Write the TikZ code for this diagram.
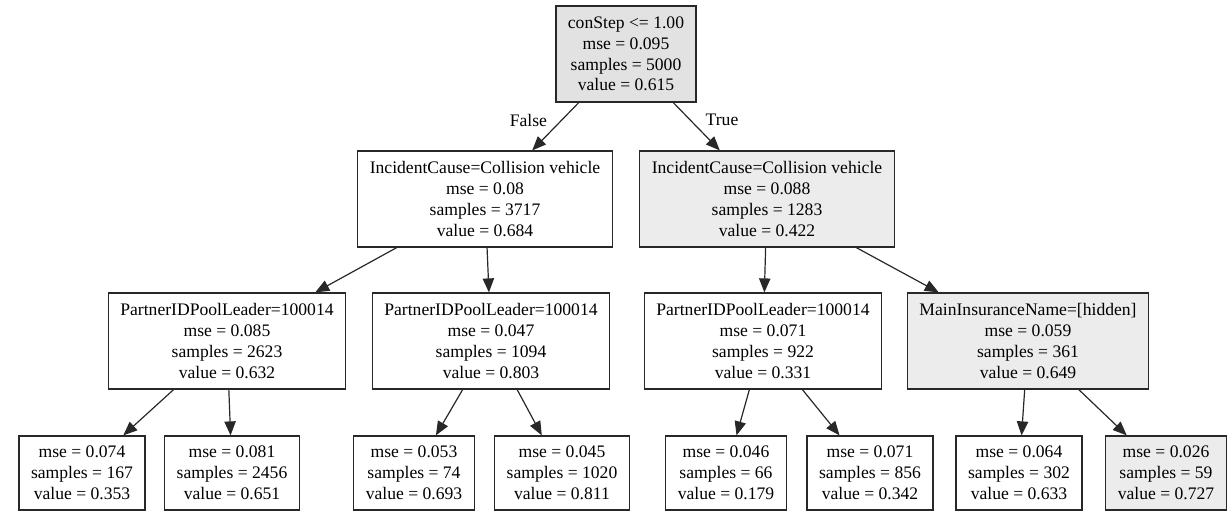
\documentclass[tikz,border=0pt]{standalone}
\usepackage{fontspec}
\setmainfont{Liberation Serif}
\usetikzlibrary{arrows.meta, positioning}
\definecolor{nodegray}{RGB}{236, 236, 236}
\definecolor{rootgray}{RGB}{226, 226, 226}
\definecolor{linegray}{RGB}{40, 40, 40}

\begin{document}
\begin{tikzpicture}[
    x=0.75pt, y=-0.75pt,
    arr/.style={-{Triangle[length=10.5pt, width=8.5pt]}, line width=0.9pt, draw=linegray},
    box/.style={draw=linegray, line width=0.9pt, inner xsep=9pt, inner ysep=0pt,
                align=center, font=\fontsize{13.2}{15.6}\selectfont},
    split/.style={box, minimum height=72pt},
    leaf/.style={box, minimum height=55.5pt},
    lbl/.style={inner sep=0pt, font=\fontsize{13.2}{15.6}\selectfont}
  ]
  \useasboundingbox (0,0) rectangle (1229,513);

  % root
  \node[split, fill=rootgray] (root) at (626,54)
        {conStep <= 1.00\\mse = 0.095\\samples = 5000\\value = 0.615};

  % first split
  \node[split] (fa) at (485,199)
        {IncidentCause=Collision vehicle\\mse = 0.08\\samples = 3717\\value = 0.684};
  \node[split, fill=nodegray] (tr) at (767,199)
        {IncidentCause=Collision vehicle\\mse = 0.088\\samples = 1283\\value = 0.422};

  % second split
  \node[split] (pa) at (227,341)
        {PartnerIDPoolLeader=100014\\mse = 0.085\\samples = 2623\\value = 0.632};
  \node[split] (pb) at (491,341)
        {PartnerIDPoolLeader=100014\\mse = 0.047\\samples = 1094\\value = 0.803};
  \node[split] (pc) at (763,341)
        {PartnerIDPoolLeader=100014\\mse = 0.071\\samples = 922\\value = 0.331};
  \node[split, fill=nodegray] (ins) at (1028,341)
        {MainInsuranceName=[hidden]\\mse = 0.059\\samples = 361\\value = 0.649};

  % leaves
  \node[leaf] (l1) at (82,473) {mse = 0.074\\samples = 167\\value = 0.353};
  \node[leaf] (l2) at (232,473) {mse = 0.081\\samples = 2456\\value = 0.651};
  \node[leaf] (l3) at (414,473) {mse = 0.053\\samples = 74\\value = 0.693};
  \node[leaf] (l4) at (562,473) {mse = 0.045\\samples = 1020\\value = 0.811};
  \node[leaf] (l5) at (726,473) {mse = 0.046\\samples = 66\\value = 0.179};
  \node[leaf] (l6) at (870,473) {mse = 0.071\\samples = 856\\value = 0.342};
  \node[leaf] (l7) at (1019,473) {mse = 0.064\\samples = 302\\value = 0.633};
  \node[leaf, fill=nodegray] (l8) at (1166,473) {mse = 0.026\\samples = 59\\value = 0.727};

  \draw[arr] (root) -- (fa) node[lbl, pos=0.37, left=10.5pt] (lfalse) {False};
  \draw[arr] (root) -- (tr) node[lbl, pos=0.37, right=11pt] (ltrue) {True};
  \draw[arr] (fa) -- (pa);
  \draw[arr] (fa) -- (pb);
  \draw[arr] (tr) -- (pc);
  \draw[arr] (tr) -- (ins);
  \draw[arr] (pa) -- (l1);
  \draw[arr] (pa) -- (l2);
  \draw[arr] (pb) -- (l3);
  \draw[arr] (pb) -- (l4);
  \draw[arr] (pc) -- (l5);
  \draw[arr] (pc) -- (l6);
  \draw[arr] (ins) -- (l7);
  \draw[arr] (ins) -- (l8);
\end{tikzpicture}
\end{document}
